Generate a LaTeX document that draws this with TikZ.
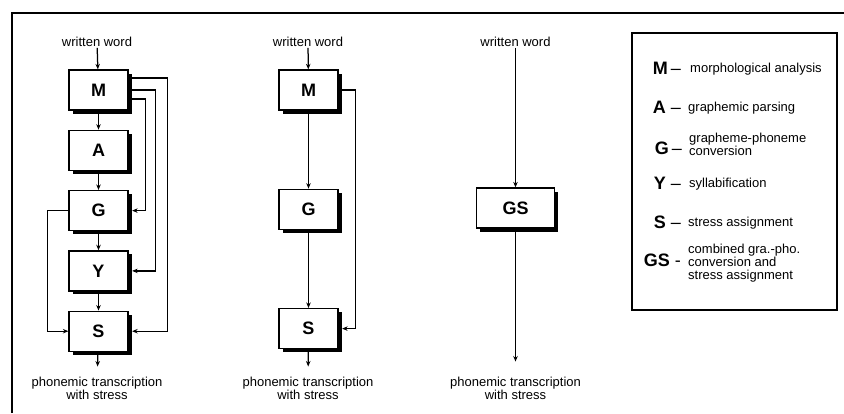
\documentclass[tikz,border=0pt]{standalone}
\usepackage{fontspec}
\setmainfont{Liberation Sans}
\usetikzlibrary{arrows.meta,positioning,shadows}

\begin{document}
\begin{tikzpicture}[x=1pt,y=-1pt,node distance = 19pt and 5mm,
    stage/.style={rectangle,draw=black,line width=1.3pt,fill=white,minimum width=59pt,minimum height=40pt,inner sep=0pt,
                  font=\fontsize{18}{18}\selectfont\bfseries,
                  drop shadow={shadow xshift=3.5pt,shadow yshift=-3.5pt,fill=black,opacity=1}},
    wordtext/.style={align=center,inner sep=1pt,font=\fontsize{13}{13}\selectfont},
    keyletter/.style={anchor=east,inner sep=0pt,font=\fontsize{18}{18}\selectfont},
    entry/.style={anchor=west,inner sep=0pt,align=left,font=\fontsize{13}{13}\selectfont},
    flow/.style={line width=1.25pt,-{Stealth[length=5.5pt,width=4.5pt]}},
   ]

    \useasboundingbox (0,0) rectangle (844,413);
    \draw[line width=1.3pt] (12,413) |- (844,13);

    % full chain of modules
    \node (in1)  [wordtext] at (97,42) {written word};
    \node (m1)   [stage] at (98.5,90) {M};
    \node (a1)   [stage,below=of m1] {A};
    \node (g1)   [stage,below=of a1] {G};
    \node (y1)   [stage,below=of g1] {Y};
    \node (s1)   [stage,below=of y1] {S};
    \node (out1) [wordtext] at (97,388) {phonemic transcription\\with stress};

    \draw[flow] (in1) -- (m1);
    \draw[flow] (m1) -- (a1);
    \draw[flow] (a1) -- (g1);
    \draw[flow] (g1) -- (y1);
    \draw[flow] (y1) -- (s1);
    \draw[flow,shorten >=9pt] (s1) -- (out1);
    \draw[flow] ([yshift=12pt]m1.east) -- ++(39,0) |- ([xshift=3.5pt]s1.east);
    \draw[flow] (m1.east) -- ++(27,0) |- ([xshift=3.5pt]y1.east);
    \draw[flow] ([yshift=-9pt]m1.east) -- ++(17,0) |- ([xshift=3.5pt]g1.east);
    \draw[flow] (g1.west) -- ++(-21,0) |- (s1.west);

    % reduced chain
    \node (in2)  [wordtext] at (308,42) {written word};
    \node (m2)   [stage] at (308.5,90) {M};
    \node (g2)   [stage,below=78pt of m2] {G};
    \node (s2)   [stage,below=78pt of g2] {S};
    \node (out2) [wordtext] at (308,388) {phonemic transcription\\with stress};

    \draw[flow] (in2) -- (m2);
    \draw[flow] (m2) -- (g2);
    \draw[flow] (g2) -- (s2);
    \draw[flow,shorten >=9pt] (s2) -- (out2);
    \draw[flow] (m2.east) -- ++(17,0) |- ([xshift=3.5pt]s2.east);

    % single module
    \node (in3)  [wordtext] at (515.5,42) {written word};
    \node (gs3)  [stage,minimum width=78pt] at (515.5,208) {GS};
    \node (out3) [wordtext] at (515.5,388) {phonemic transcription\\with stress};

    \draw[flow] (in3) -- (gs3);
    \draw[flow,shorten >=14pt] (gs3) -- (out3);

    % legend
    \node (legend) [draw,line width=1.3pt,minimum width=205pt,minimum height=277pt] at (734.5,171.5) {};
    \node (keyM)  [keyletter] at (681,68)  {\textbf{M}\,--};
    \node (keyA)  [keyletter] at (681,107) {\textbf{A} --};
    \node (keyG)  [keyletter] at (682,148) {\textbf{G}\,--};
    \node (keyY)  [keyletter] at (681,183) {\textbf{Y} --};
    \node (keyS)  [keyletter] at (681,222) {\textbf{S} --};
    \node (keyGS) [keyletter] at (681,260) {\textbf{GS} -};
    \node (txtM)  [entry] at (690,69)  {morphological analysis};
    \node (txtA)  [entry] at (688,108) {graphemic parsing};
    \node (txtG)  [entry] at (689,144) {grapheme-phoneme\\conversion};
    \node (txtY)  [entry] at (689,184) {syllabification};
    \node (txtS)  [entry] at (688,223) {stress assignment};
    \node (txtGS) [entry] at (688,263) {combined gra.-pho.\\conversion and\\stress assignment};
   \end{tikzpicture}
\end{document}
